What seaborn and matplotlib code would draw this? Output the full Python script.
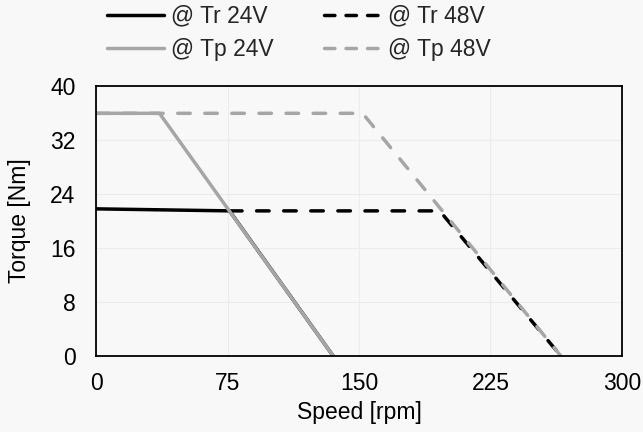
import numpy as np
import pandas as pd
import matplotlib.pyplot as plt
import seaborn as sns

# 曲线数据 (转速 rpm, 扭矩 Nm)
tr24_speed = [0, 76, 135]
tr24_torque = [21.8, 21.5, 0]
tr48_speed = [76, 196, 265]
tr48_torque = [21.5, 21.5, 0]
tp24_speed = [0, 36, 135]
tp24_torque = [36, 36, 0]
tp48_speed = [0, 152, 265]
tp48_torque = [36, 36, 0]

x_ticks = [0, 75, 150, 225, 300]
y_ticks = [0, 8, 16, 24, 32, 40]

sns.set_theme(style='whitegrid')
plt.rcParams['font.family'] = ['Liberation Sans', 'DejaVu Sans']

bg = '#f8f8f8'
fs = 16.5
fig, ax = plt.subplots(figsize=(6.43, 4.32), dpi=100)
fig.patch.set_facecolor(bg)
ax.set_facecolor(bg)

dash = (0, (3.6, 4.2))
sns.lineplot(x=tr24_speed, y=tr24_torque, ax=ax, color='black', lw=2.5, label='@ Tr 24V')
sns.lineplot(x=tr48_speed, y=tr48_torque, ax=ax, color='black', lw=2.5, ls=dash,
             dash_capstyle='round', label='@ Tr 48V')
sns.lineplot(x=tp24_speed, y=tp24_torque, ax=ax, color='#a6a6a6', lw=2.5, label='@ Tp 24V')
sns.lineplot(x=tp48_speed, y=tp48_torque, ax=ax, color='#a6a6a6', lw=2.5, ls=dash,
             dash_capstyle='round', label='@ Tp 48V')

ax.set_xlim(0, 300)
ax.set_ylim(0, 40)
ax.set_xticks(x_ticks)
ax.set_yticks(y_ticks)
ax.grid(True, color='#ececec', lw=0.8)
for s in ax.spines.values():
    s.set_color('black')
    s.set_linewidth(1.3)
ax.tick_params(labelsize=fs, colors='black', length=0)
ax.tick_params(axis='x', pad=12)
ax.tick_params(axis='y', pad=15)
ax.set_xlabel('Speed [rpm]', fontsize=fs, color='black', labelpad=4)
ax.set_ylabel('Torque [Nm]', fontsize=fs, color='black', labelpad=14)

# 图例顺序: 两列, Tr 一行, Tp 一行
h, l = ax.get_legend_handles_labels()
order = [0, 2, 1, 3]
leg = ax.legend([h[i] for i in order], [l[i] for i in order], ncol=2, frameon=False,
                loc='lower center', bbox_to_anchor=(0.385, 1.035), fontsize=fs,
                handlelength=2.5, handletextpad=0.3, columnspacing=2.2, labelspacing=0.45,
                borderaxespad=0.3)
# 图例里的虚线用短一点的间隔, 正好三段
for ln in leg.get_lines()[2:]:
    ln.set_linestyle((0, (3.0, 3.2)))

plt.subplots_adjust(left=0.15, right=0.967, top=0.8, bottom=0.177)
plt.savefig('out.png', dpi=100, facecolor=bg)
